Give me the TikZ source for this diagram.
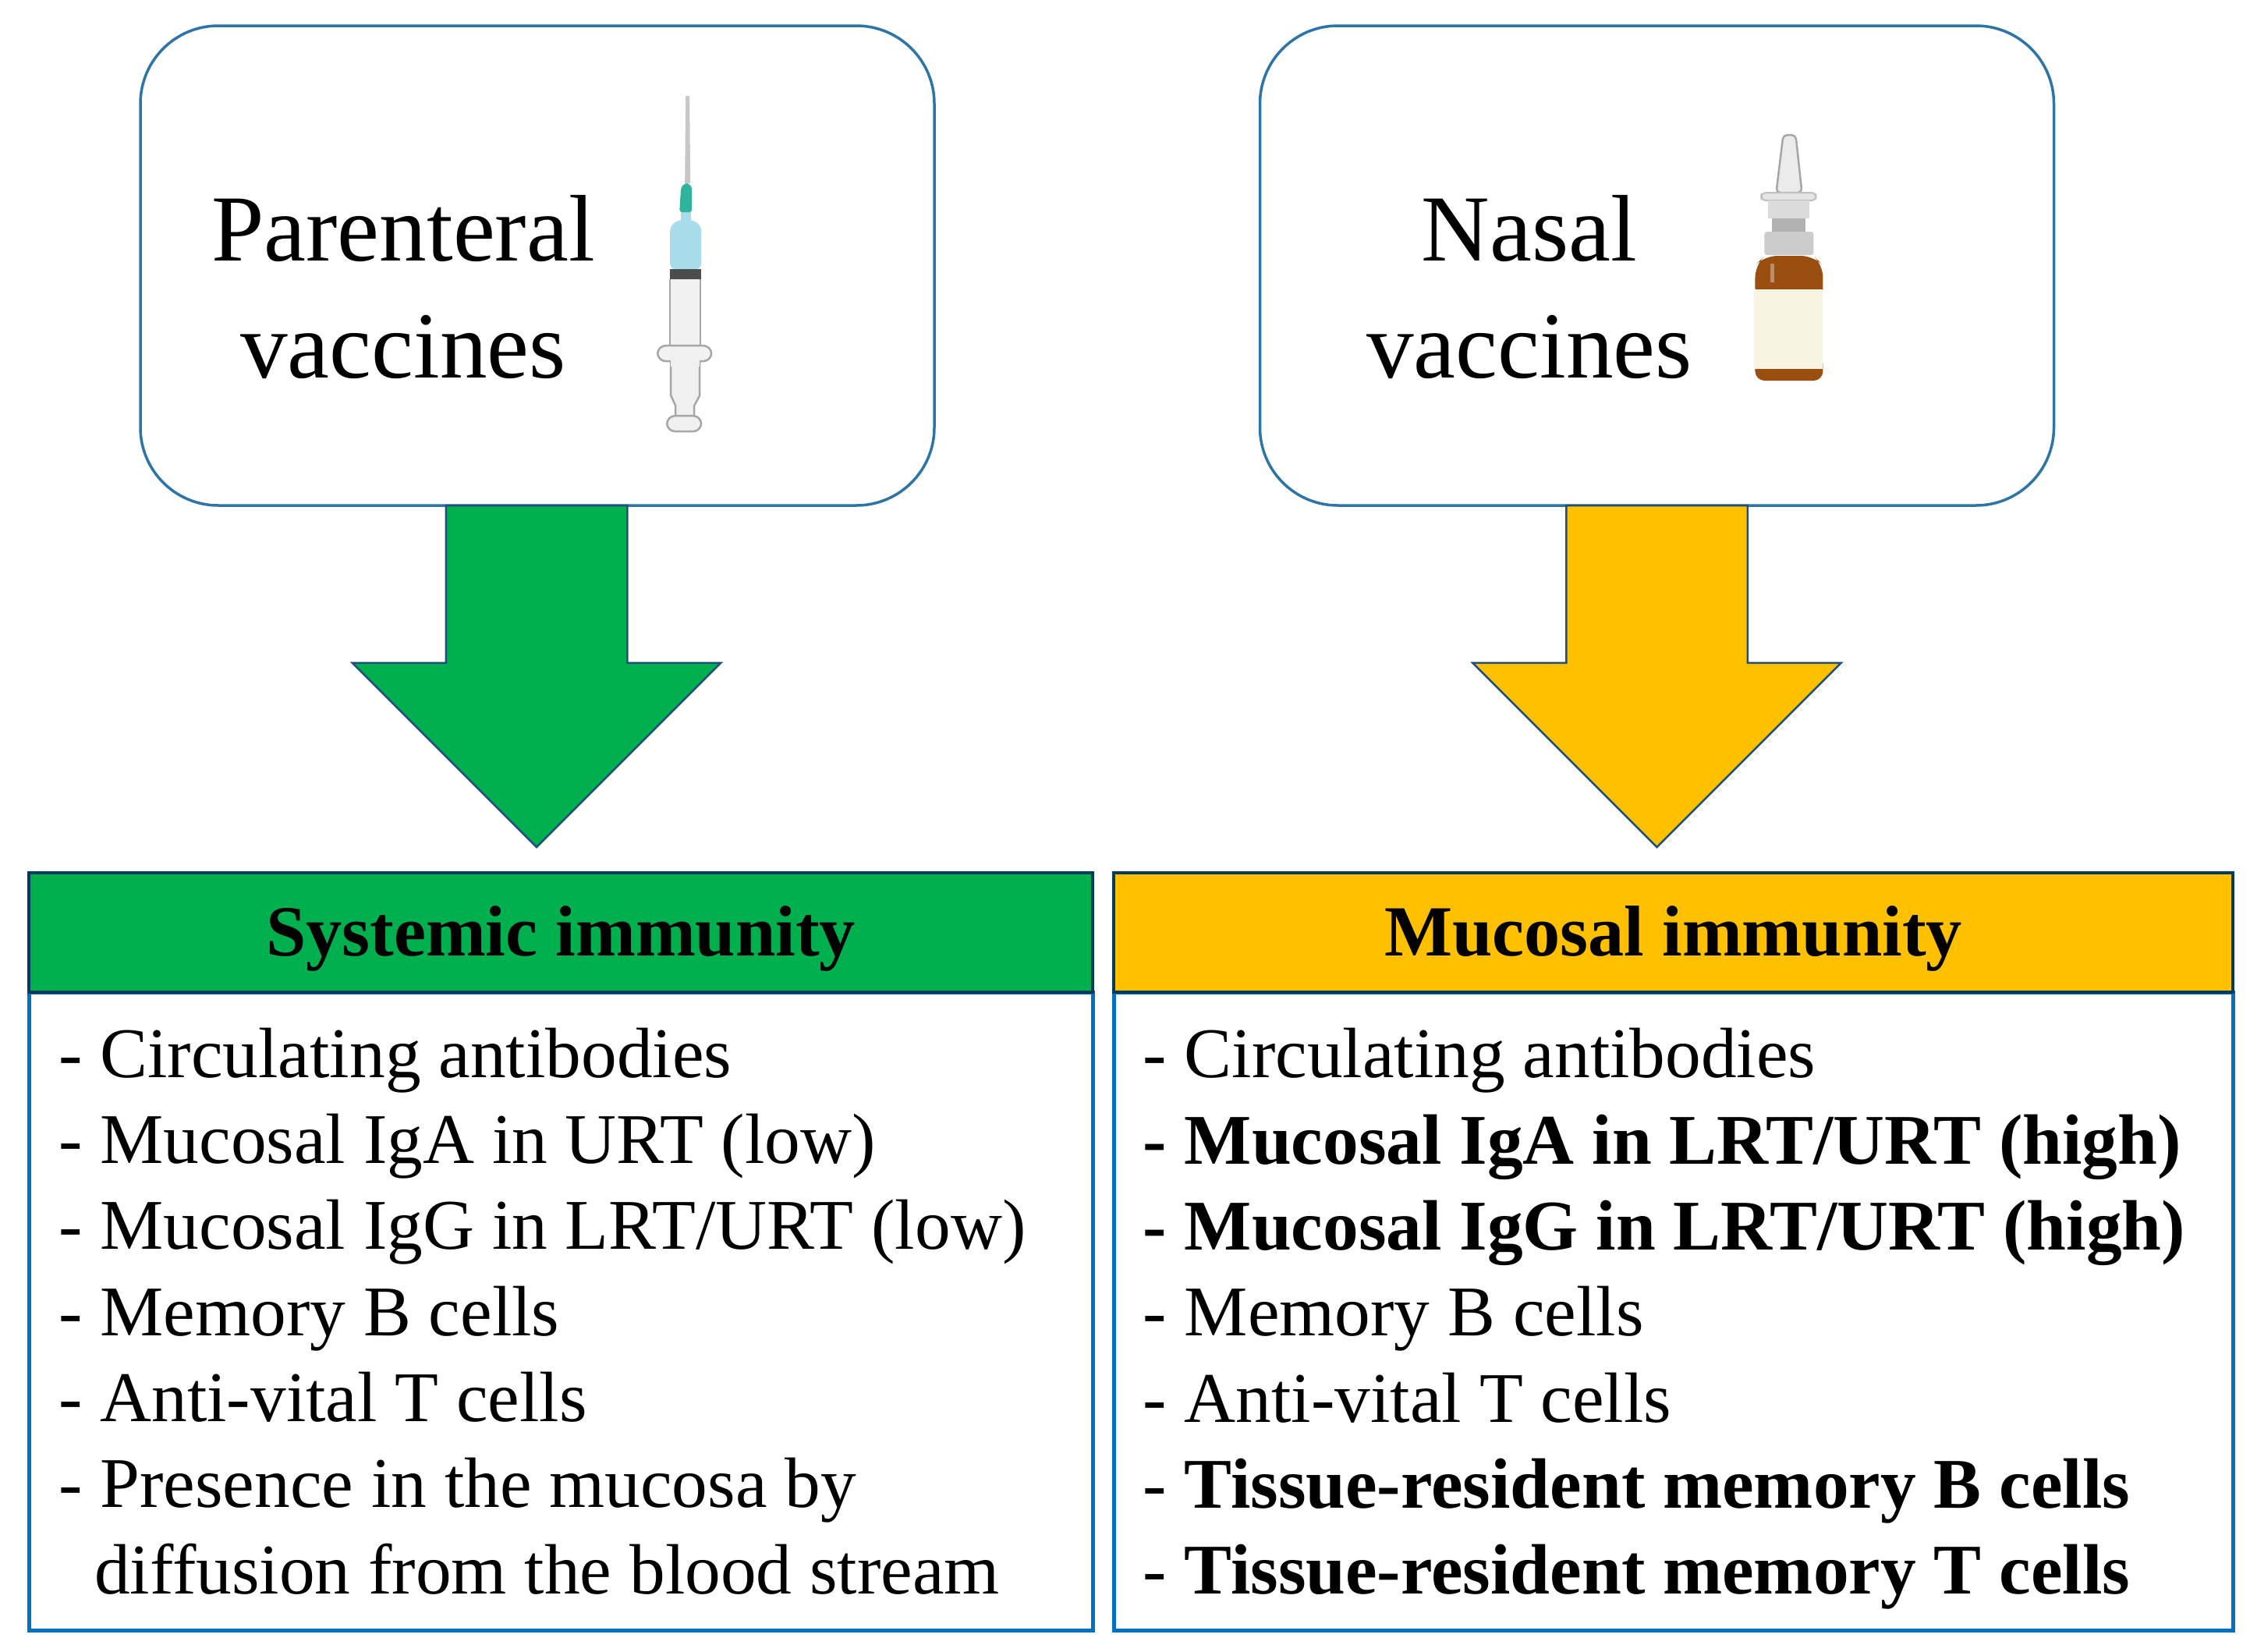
\documentclass[tikz,border=0pt]{standalone}
\usepackage{fontspec}
\setmainfont{Liberation Serif}
\usepackage{xcolor}
\usetikzlibrary{positioning,shapes.arrows}
\definecolor{bggreen}{HTML}{00B04F}
\definecolor{bgamber}{HTML}{FFC000}
\definecolor{edgeblue}{HTML}{2E75A6}
\definecolor{listblue}{HTML}{0070C0}
\definecolor{headnavy}{HTML}{003A5E}
\definecolor{arrownavy}{HTML}{1F4E79}
\definecolor{liquid}{HTML}{A8DCEB}
\definecolor{hub}{HTML}{2FB39B}
\definecolor{glass}{HTML}{9A4E10}
\definecolor{sticker}{HTML}{F8F4E2}

\begin{document}
\begin{tikzpicture}[
        route/.style={
            rectangle,
            draw=edgeblue,
            line width=0.07cm,
            fill=white,
            rounded corners=2cm,
            minimum width=20.36cm,
            minimum height=12.3cm
        },
        title/.style={
            align=center,
            font=\fontsize{69}{85}\selectfont,
            inner sep=0pt
        },
        drop/.style={
            single arrow,
            shape border rotate=270,
            draw=arrownavy,
            line width=0.05cm,
            inner sep=2.3cm,
            minimum height=8.76cm,
            minimum width=9.44cm,
            single arrow head extend=2.4cm,
            single arrow head indent=0cm
        },
        head/.style={
            rectangle,
            draw=headnavy,
            line width=0.08cm,
            minimum height=3.06cm,
            text height=40pt,
            text depth=6pt,
            font=\fontsize{52.5}{63}\selectfont\bfseries
        },
        listing/.style={
            rectangle,
            draw=listblue,
            line width=0.1cm,
            minimum height=16.36cm,
            inner sep=0pt,
            align=flush left,
            font=\fontsize{52}{62.8}\selectfont
        },
        grayline/.style={draw=black!35, line width=0.05cm}
    ]
        \fill[white] (0,0) rectangle (57.7,-42.34);
        \useasboundingbox (0,0) rectangle (57.7,-42.34);

        \node (parenteral) [route] at (13.78,-6.81) {};
        \node (nasal) [route, right of=parenteral, node distance=28.71cm] {};
        \node (parenteraltext) [title] at (10.34,-7.36) {Parenteral\\vaccines};
        \node (nasaltext) [title] at (39.22,-7.36) {Nasal\\vaccines};

        \node (greendrop) [drop, fill=bggreen, below of=parenteral, node distance=9.37cm, xshift=-0.02cm] {};
        \node (amberdrop) [drop, fill=bgamber, below of=nasal, node distance=9.37cm] {};

        \node (systemicbody) [listing, minimum width=27.28cm, text width=25.75cm] at (14.38,-33.62) {%
            - Circulating antibodies\\
            - Mucosal IgA in URT (low)\\
            - Mucosal IgG in LRT/URT (low)\\
            - Memory B cells\\
            - Anti-vital T cells\\
            - Presence in the mucosa by\\
            \hspace*{0.92cm}diffusion from the blood stream};
        \node (mucosalbody) [listing, minimum width=28.7cm, text width=27.2cm, right of=systemicbody, node distance=28.53cm] {%
            - Circulating antibodies\\
            \textbf{- Mucosal IgA in LRT/URT (high)}\\
            \textbf{- Mucosal IgG in LRT/URT (high)}\\
            - Memory B cells\\
            - Anti-vital T cells\\
            - \textbf{Tissue-resident memory B cells}\\
            - \smash{\textbf{Tissue-resident memory T cells}}};
        \node (systemic) [head, fill=bggreen, minimum width=27.28cm, above of=systemicbody, node distance=9.71cm] {Systemic immunity};
        \node (mucosal) [head, fill=bgamber, minimum width=28.7cm, above of=mucosalbody, node distance=9.71cm] {Mucosal immunity};

        % syringe
        \begin{scope}[x=0.02cm, y=-0.02cm]
            \fill[black!22] (879,123) -- (884,123) -- (885,235) -- (878,235) -- cycle;
            \fill[black!6] (860,463) -- (897,463) -- (897,507) -- (890,520) -- (890,535) -- (866,535) -- (866,520) -- (860,507) -- cycle;
            \draw[grayline] (860,463) -- (860,507) -- (866,520) -- (866,535) (897,463) -- (897,507) -- (890,520) -- (890,535);
            \draw[grayline, fill=black!6, rounded corners=6pt] (855,533) rectangle (899,553);
            \fill[black!6] (859,358) rectangle (898,443);
            \draw[grayline] (859,358) -- (859,443) (898,358) -- (898,443);
            \draw[grayline, fill=black!5, rounded corners=6pt] (843,443) rectangle (912,463);
            \fill[black!6] (860,447) rectangle (897,470);
            \fill[liquid] (873,270) rectangle (886,285);
            \fill[liquid, rounded corners=4pt] (859,345) -- (859,289) -- (872,281) -- (886,281) -- (899,289) -- (899,345) -- cycle;
            \fill[black!70] (859,345) rectangle (899,358);
            \fill[hub, rounded corners=2pt] (871,272) -- (873,240) -- (878,235) -- (883,235) -- (887,240) -- (887,272) -- cycle;
        \end{scope}

        % spray bottle
        \begin{scope}[x=0.02cm, y=-0.02cm]
            \draw[grayline, fill=black!8, rounded corners=3pt] (2277,247) -- (2286,173) -- (2302,173) -- (2310,247) -- cycle;
            \draw[line width=0.04cm, draw=black!25, fill=black!10, rounded corners=3pt] (2258,247) rectangle (2328,257);
            \fill[black!14] (2267,257) rectangle (2320,280);
            \fill[black!30] (2272,280) rectangle (2315,297);
            \fill[black!20, rounded corners=2pt] (2262,297) rectangle (2325,327);
            \fill[glass, rounded corners=9pt] (2250,385) -- (2250,340) -- (2262,328) -- (2325,328) -- (2337,340) -- (2337,385) -- cycle;
            \fill[glass!65!white] (2270,338) rectangle (2275,362);
            \fill[glass, rounded corners=7pt] (2250,455) -- (2250,488) -- (2337,488) -- (2337,455) -- cycle;
            \fill[sticker] (2249,371) rectangle (2337,473);
        \end{scope}
    \end{tikzpicture}
\end{document}
